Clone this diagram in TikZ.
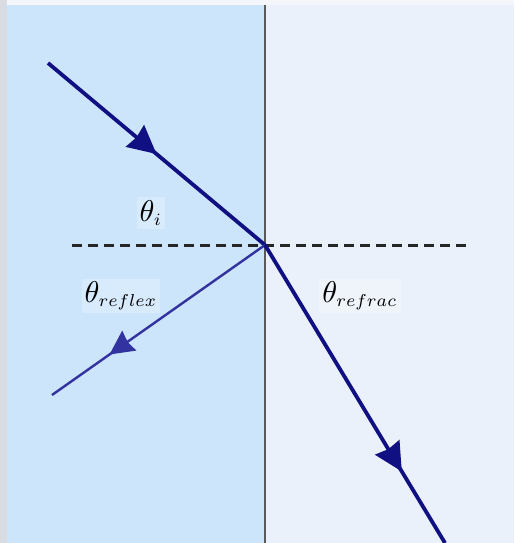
\documentclass[tikz,border=0pt]{standalone}
\usepackage{amsmath}
\usepackage{graphicx}
\usepackage{tikz}
\usetikzlibrary{arrows.meta, decorations.markings}
\definecolor{glassblue}{RGB}{204,229,251}
\definecolor{airblue}{RGB}{234,241,250}
\definecolor{edgegrey}{RGB}{216,220,226}
\definecolor{topwhite}{RGB}{244,246,250}
\definecolor{raynavy}{RGB}{16,16,130}
\definecolor{reflblue}{RGB}{50,50,160}
\newcommand{\angsub}[1]{\scalebox{0.82}{$\scriptstyle #1$}}
\tikzset{
  midarrow/.style 2 args={postaction={decorate}, decoration={markings,
      mark=at position #1 with {\arrow{Stealth[length=#2, width=#2, inset=2pt]}}}},
  ray/.style={raynavy, line width=3.8pt},
  anglelabel/.style={scale=3.0, inner sep=1pt,
      fill=white, fill opacity=0.25, text opacity=1}
}

\begin{document}
\begin{tikzpicture}[x=1pt, y=-1pt]
    % --- Background ---
    \useasboundingbox (0,0) rectangle (514,543);
    \fill[topwhite] (0,0) rectangle (514,543);
    \fill[edgegrey] (0,0) rectangle (7,543);
    \fill[glassblue] (7,5) rectangle (265,543);
    \fill[airblue] (265,5) rectangle (514,543);

    % --- Interface and normal ---
    \coordinate (O) at (265,245);
    \coordinate (top) at (265,5);
    \coordinate (bottom) at (265,543);
    \draw[black!65, line width=1.8pt] (top) -- (bottom);
    \coordinate (nl) at (72,245);
    \coordinate (nr) at (466,245);
    \draw[black!85, line width=3pt, dash pattern=on 10pt off 6pt] (nl) -- (nr);

    % --- Rays ---
    \coordinate (inc) at (48,63);
    \coordinate (refl) at (52,395);
    \coordinate (refr) at (445,543);
    \draw[ray, midarrow={0.50}{28pt}] (inc) -- (O);
    \draw[reflblue, line width=2.4pt, midarrow={0.73}{24pt}] (O) -- (refl);
    \draw[ray, midarrow={0.76}{28pt}] (O) -- (refr);

    % --- Angle labels ---
    \node[anglelabel] (thi) at (151,213) {$\theta_{\angsub{i}}$};
    \node[anglelabel] (threfl) at (121,296) {$\theta_{\angsub{reflex}}$};
    \node[anglelabel] (threfr) at (360,296) {$\theta_{\angsub{refrac}}$};
\end{tikzpicture}
\end{document}
